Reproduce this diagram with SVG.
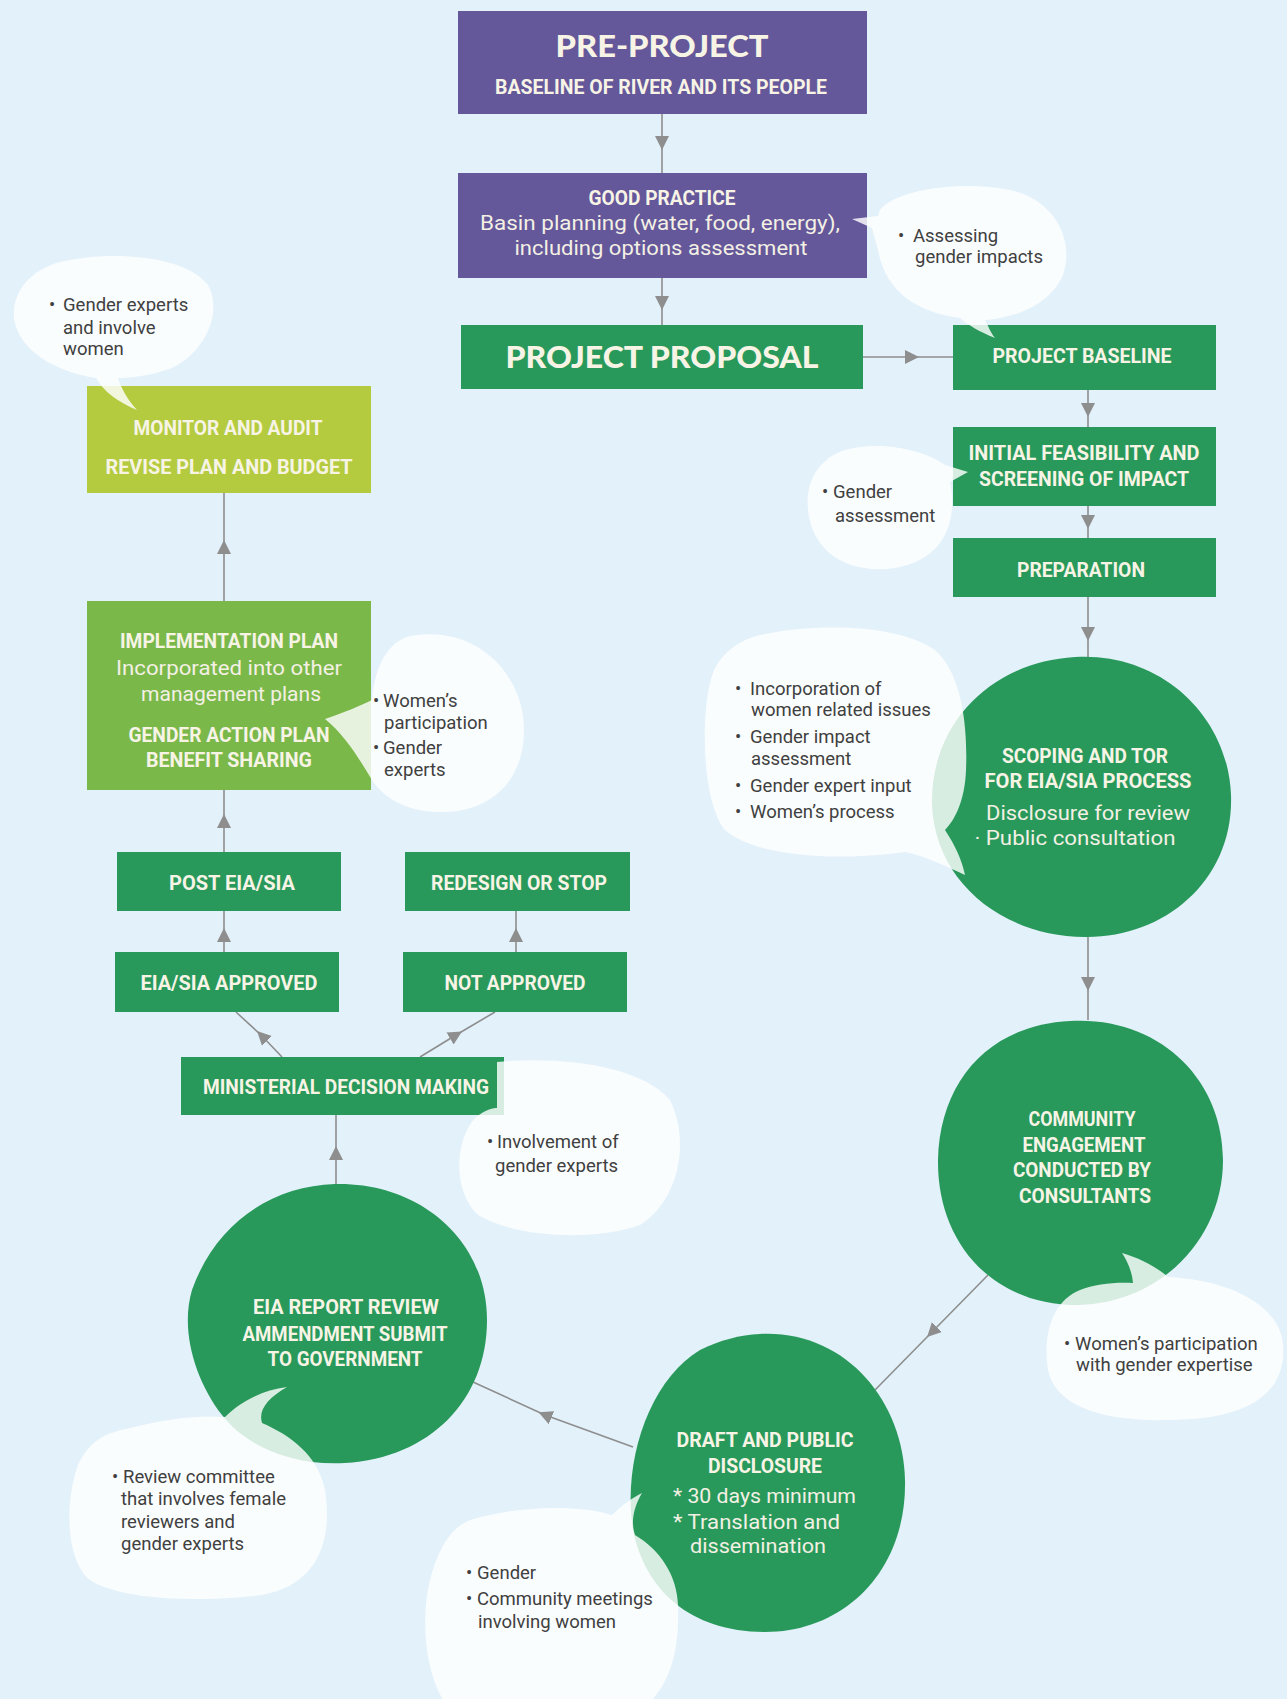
<svg xmlns="http://www.w3.org/2000/svg" width="1287" height="1699" viewBox="0 0 1287 1699">
<style>
.bg{fill:#e3f1fa}
.purple{fill:#64579a}
.green{fill:#28995b}
.lime{fill:#b5cb3f}
.mid{fill:#7bb84a}
.t{font-family:Roboto,"Liberation Sans",sans-serif;font-weight:700;font-size:20px;fill:#f7f4e6;text-anchor:middle}
.r{font-family:Roboto,"Liberation Sans",sans-serif;font-weight:400;font-size:20px;fill:#f3f0e4;text-anchor:middle}
.rl{font-family:Roboto,"Liberation Sans",sans-serif;font-weight:400;font-size:20px;fill:#f3f0e4}
.h{font-family:Lato,"Liberation Sans",sans-serif;font-weight:900;font-size:31px;fill:#f7f4e6;text-anchor:middle}
.bub{fill:#ffffff;fill-opacity:0.82}
.n{font-family:Roboto,"Liberation Sans",sans-serif;font-size:18.5px;fill:#404040}
.c{fill:none;stroke:#8e8e8e;stroke-width:1.6;marker-mid:url(#arr)}
</style>
<defs>
<marker id="arr" viewBox="0 0 10 10" refX="5" refY="5" markerWidth="14" markerHeight="15" markerUnits="userSpaceOnUse" orient="auto">
<path d="M0,0 L10,5 L0,10 Z" fill="#8e8e8e"/>
</marker>
</defs>
<rect class="bg" x="0" y="0" width="1287" height="1699"/>

<g id="connectors">
<path class="c" d="M662 114 L662 143 L662 173"/>
<path class="c" d="M662 278 L662 303 L662 325"/>
<path class="c" d="M863 357 L912 357 L953 357"/>
<path class="c" d="M1088 390 L1088 410 L1088 427"/>
<path class="c" d="M1088 506 L1088 522 L1088 538"/>
<path class="c" d="M1088 597 L1088 634 L1088 658"/>
<path class="c" d="M1088 937 L1088 984 L1088 1020"/>
<path class="c" d="M988 1275 L932 1332 L875 1390"/>
<path class="c" d="M633 1447 L545 1415 L473 1382"/>
<path class="c" d="M336 1184 L336 1153 L336 1115"/>
<path class="c" d="M282 1057 L262 1036 L236 1012"/>
<path class="c" d="M420 1057 L456 1035 L495 1012"/>
<path class="c" d="M224 952 L224 935 L224 911"/>
<path class="c" d="M516 952 L516 935 L516 911"/>
<path class="c" d="M224 852 L224 821 L224 790"/>
<path class="c" d="M224 601 L224 547 L224 493"/>
</g>

<g id="pre-project">
<rect class="purple" x="458" y="11" width="409" height="103"/>
<text class="h" x="662" y="57" textLength="213" lengthAdjust="spacingAndGlyphs">PRE-PROJECT</text>
<text class="t" x="661" y="94" textLength="332" lengthAdjust="spacingAndGlyphs">BASELINE OF RIVER AND ITS PEOPLE</text>
</g>
<g id="good-practice">
<rect class="purple" x="458" y="173" width="409" height="105"/>
<text class="t" x="662" y="205" textLength="147" lengthAdjust="spacingAndGlyphs">GOOD PRACTICE</text>
<text class="r" x="660" y="230" textLength="360" lengthAdjust="spacingAndGlyphs">Basin planning (water, food, energy),</text>
<text class="r" x="661" y="255" textLength="293" lengthAdjust="spacingAndGlyphs">including options assessment</text>
</g>
<g id="project-proposal">
<rect class="green" x="461" y="325" width="402" height="64"/>
<text class="h" x="662" y="368" textLength="313" lengthAdjust="spacingAndGlyphs">PROJECT PROPOSAL</text>
</g>
<g id="project-baseline">
<rect class="green" x="953" y="325" width="263" height="65"/>
<text class="t" x="1082" y="363" textLength="179" lengthAdjust="spacingAndGlyphs">PROJECT BASELINE</text>
</g>
<g id="initial-feasibility">
<rect class="green" x="953" y="427" width="263" height="79"/>
<text class="t" x="1084" y="460" textLength="231" lengthAdjust="spacingAndGlyphs">INITIAL FEASIBILITY AND</text>
<text class="t" x="1084" y="486" textLength="210" lengthAdjust="spacingAndGlyphs">SCREENING OF IMPACT</text>
</g>
<g id="preparation">
<rect class="green" x="953" y="538" width="263" height="59"/>
<text class="t" x="1081" y="577" textLength="128" lengthAdjust="spacingAndGlyphs">PREPARATION</text>
</g>
<g id="scoping">
<path class="green" d="M1075 657 C1160 652 1228 715 1231 795 C1234 880 1165 938 1085 937 C1000 936 935 880 932 805 C930 725 990 662 1075 657 Z"/>
<text class="t" x="1085" y="763" textLength="166" lengthAdjust="spacingAndGlyphs">SCOPING AND TOR</text>
<text class="t" x="1088" y="788" textLength="207" lengthAdjust="spacingAndGlyphs">FOR EIA/SIA PROCESS</text>
<text class="r" x="1088" y="820" textLength="204" lengthAdjust="spacingAndGlyphs">Disclosure for review</text>
<text class="r" x="1075" y="845" textLength="201" lengthAdjust="spacingAndGlyphs">· Public consultation</text>
</g>
<g id="community">
<path class="green" d="M1070 1021 C1160 1016 1223 1080 1223 1160 C1223 1240 1160 1302 1080 1305 C990 1306 937 1240 938 1160 C940 1080 990 1025 1070 1021 Z"/>
<text class="t" x="1082" y="1126" textLength="107" lengthAdjust="spacingAndGlyphs">COMMUNITY</text>
<text class="t" x="1084" y="1152" textLength="123" lengthAdjust="spacingAndGlyphs">ENGAGEMENT</text>
<text class="t" x="1082" y="1177" textLength="138" lengthAdjust="spacingAndGlyphs">CONDUCTED BY</text>
<text class="t" x="1085" y="1203" textLength="132" lengthAdjust="spacingAndGlyphs">CONSULTANTS</text>
</g>
<g id="draft">
<path class="green" d="M760 1334 C845 1330 903 1400 905 1480 C907 1570 845 1632 765 1632 C690 1632 645 1590 633 1530 C622 1460 650 1380 700 1350 C720 1340 740 1335 760 1334 Z"/>
<text class="t" x="765" y="1447" textLength="177" lengthAdjust="spacingAndGlyphs">DRAFT AND PUBLIC</text>
<text class="t" x="765" y="1473" textLength="114" lengthAdjust="spacingAndGlyphs">DISCLOSURE</text>
<text class="rl" x="673" y="1503" textLength="183" lengthAdjust="spacingAndGlyphs">* 30 days minimum</text>
<text class="rl" x="673" y="1529" textLength="167" lengthAdjust="spacingAndGlyphs">* Translation and</text>
<text class="rl" x="690" y="1553" textLength="136" lengthAdjust="spacingAndGlyphs">dissemination</text>
</g>
<g id="eia-report">
<path class="green" d="M335 1184 C420 1182 487 1240 487 1320 C487 1400 430 1458 345 1463 C290 1466 245 1445 222 1415 C195 1380 180 1330 192 1290 C215 1225 270 1186 335 1184 Z"/>
<text class="t" x="346" y="1314" textLength="186" lengthAdjust="spacingAndGlyphs">EIA REPORT REVIEW</text>
<text class="t" x="345" y="1341" textLength="205" lengthAdjust="spacingAndGlyphs">AMMENDMENT SUBMIT</text>
<text class="t" x="345" y="1366" textLength="155" lengthAdjust="spacingAndGlyphs">TO GOVERNMENT</text>
</g>
<g id="ministerial">
<rect class="green" x="181" y="1057" width="323" height="58"/>
<text class="t" x="346" y="1094" textLength="286" lengthAdjust="spacingAndGlyphs">MINISTERIAL DECISION MAKING</text>
</g>
<g id="eia-approved">
<rect class="green" x="115" y="952" width="224" height="60"/>
<text class="t" x="229" y="990" textLength="177" lengthAdjust="spacingAndGlyphs">EIA/SIA APPROVED</text>
</g>
<g id="not-approved">
<rect class="green" x="403" y="952" width="224" height="60"/>
<text class="t" x="515" y="990" textLength="141" lengthAdjust="spacingAndGlyphs">NOT APPROVED</text>
</g>
<g id="post-eia">
<rect class="green" x="117" y="852" width="224" height="59"/>
<text class="t" x="232" y="890" textLength="126" lengthAdjust="spacingAndGlyphs">POST EIA/SIA</text>
</g>
<g id="redesign">
<rect class="green" x="405" y="852" width="225" height="59"/>
<text class="t" x="519" y="890" textLength="176" lengthAdjust="spacingAndGlyphs">REDESIGN OR STOP</text>
</g>
<g id="implementation">
<rect class="mid" x="87" y="601" width="284" height="189"/>
<text class="t" x="229" y="648" textLength="218" lengthAdjust="spacingAndGlyphs">IMPLEMENTATION PLAN</text>
<text class="r" x="229" y="675" textLength="226" lengthAdjust="spacingAndGlyphs">Incorporated into other</text>
<text class="r" x="231" y="701" textLength="180" lengthAdjust="spacingAndGlyphs">management plans</text>
<text class="t" x="229" y="742" textLength="201" lengthAdjust="spacingAndGlyphs">GENDER ACTION PLAN</text>
<text class="t" x="229" y="767" textLength="166" lengthAdjust="spacingAndGlyphs">BENEFIT SHARING</text>
</g>
<g id="monitor">
<rect class="lime" x="87" y="386" width="284" height="107"/>
<text class="t" x="228" y="435" textLength="189" lengthAdjust="spacingAndGlyphs">MONITOR AND AUDIT</text>
<text class="t" x="229" y="474" textLength="247" lengthAdjust="spacingAndGlyphs">REVISE PLAN AND BUDGET</text>
</g>

<g id="note-monitor">
<path class="bub" d="M60 262 C110 250 185 255 208 285 C222 310 208 350 172 368 C150 376 130 378 118 378 C122 390 128 400 137 410 C118 402 104 392 96 378 C55 372 18 350 14 318 C12 292 30 270 60 262 Z"/>
<text class="n" y="311"><tspan x="49">•</tspan><tspan x="63">Gender experts</tspan></text>
<text class="n" x="63" y="334">and involve</text>
<text class="n" x="63" y="355">women</text>
</g>
<g id="note-baseline">
<path class="bub" d="M880 210 C895 190 960 180 1010 190 C1055 200 1075 240 1063 275 C1050 305 1015 318 985 320 C988 325 990 332 995 338 C980 332 968 325 960 318 C915 312 885 290 878 250 L872 228 L852 219 L878 216 Z"/>
<text class="n" y="242"><tspan x="898">•</tspan><tspan x="913">Assessing</tspan></text>
<text class="n" x="915" y="263">gender impacts</text>
</g>
<g id="note-feasibility">
<path class="bub" d="M845 450 C880 440 925 450 945 465 L968 472 L950 482 C958 520 945 560 895 568 C845 575 812 550 808 510 C805 480 820 458 845 450 Z"/>
<text class="n" y="498"><tspan x="822">•</tspan><tspan x="833">Gender</tspan></text>
<text class="n" x="835" y="522">assessment</text>
</g>
<g id="note-scoping">
<path class="bub" d="M760 635 C820 622 900 625 935 650 C960 672 968 720 966 770 C965 800 955 820 945 830 C955 845 962 860 965 875 C945 866 925 856 905 852 C850 860 760 860 725 830 C700 800 700 700 715 668 C725 650 740 640 760 635 Z"/>
<text class="n" y="695"><tspan x="735">•</tspan><tspan x="750">Incorporation of</tspan></text>
<text class="n" x="751" y="716">women related issues</text>
<text class="n" y="743"><tspan x="735">•</tspan><tspan x="750">Gender impact</tspan></text>
<text class="n" x="751" y="765">assessment</text>
<text class="n" y="792"><tspan x="735">•</tspan><tspan x="750">Gender expert input</tspan></text>
<text class="n" y="818"><tspan x="735">•</tspan><tspan x="750">Women’s process</tspan></text>
</g>
<g id="note-implementation">
<path class="bub" d="M410 636 C470 625 515 665 523 715 C530 770 500 810 445 812 C410 813 385 800 372 780 C360 760 345 735 325 719 C345 712 360 706 372 700 C375 665 388 642 410 636 Z"/>
<text class="n" y="707"><tspan x="373">•</tspan><tspan x="383">Women’s</tspan></text>
<text class="n" x="384" y="729">participation</text>
<text class="n" y="754"><tspan x="373">•</tspan><tspan x="383">Gender</tspan></text>
<text class="n" x="384" y="776">experts</text>
</g>
<g id="note-ministerial">
<path class="bub" d="M497 1062 C560 1056 640 1065 670 1100 C690 1140 680 1200 640 1225 C600 1240 520 1240 478 1215 C452 1190 455 1140 475 1118 C485 1110 492 1108 497 1108 Z"/>
<text class="n" y="1148"><tspan x="487">•</tspan><tspan x="497">Involvement of</tspan></text>
<text class="n" x="495" y="1172">gender experts</text>
</g>
<g id="note-review">
<path class="bub" d="M130 1428 C170 1418 200 1415 225 1417 C240 1402 262 1390 287 1387 C268 1398 258 1410 262 1423 C290 1435 318 1455 325 1490 C333 1540 318 1585 262 1595 C200 1603 120 1600 90 1580 C65 1560 65 1500 78 1465 C90 1440 105 1433 130 1428 Z"/>
<text class="n" y="1483"><tspan x="112">•</tspan><tspan x="123">Review committee</tspan></text>
<text class="n" x="121" y="1505">that involves female</text>
<text class="n" x="121" y="1528">reviewers and</text>
<text class="n" x="121" y="1550">gender experts</text>
</g>
<g id="note-draft">
<path class="bub" d="M470 1520 C520 1505 580 1505 612 1515 C622 1505 632 1498 642 1493 C635 1505 630 1520 635 1535 C660 1550 677 1575 678 1605 C680 1650 670 1690 640 1710 L450 1710 C425 1680 420 1620 430 1580 C438 1550 450 1528 470 1520 Z"/>
<text class="n" y="1579"><tspan x="466">•</tspan><tspan x="477">Gender</tspan></text>
<text class="n" y="1605"><tspan x="466">•</tspan><tspan x="477">Community meetings</tspan></text>
<text class="n" x="478" y="1628">involving women</text>
</g>
<g id="note-community">
<path class="bub" d="M1080 1290 C1095 1284 1115 1282 1133 1283 C1132 1272 1128 1262 1122 1253 C1140 1258 1158 1268 1168 1277 C1230 1280 1280 1305 1283 1345 C1287 1395 1245 1420 1170 1420 C1100 1422 1055 1405 1048 1370 C1042 1330 1055 1300 1080 1290 Z"/>
<text class="n" y="1350"><tspan x="1064">•</tspan><tspan x="1075">Women’s participation</tspan></text>
<text class="n" x="1076" y="1371">with gender expertise</text>
</g>
</svg>
